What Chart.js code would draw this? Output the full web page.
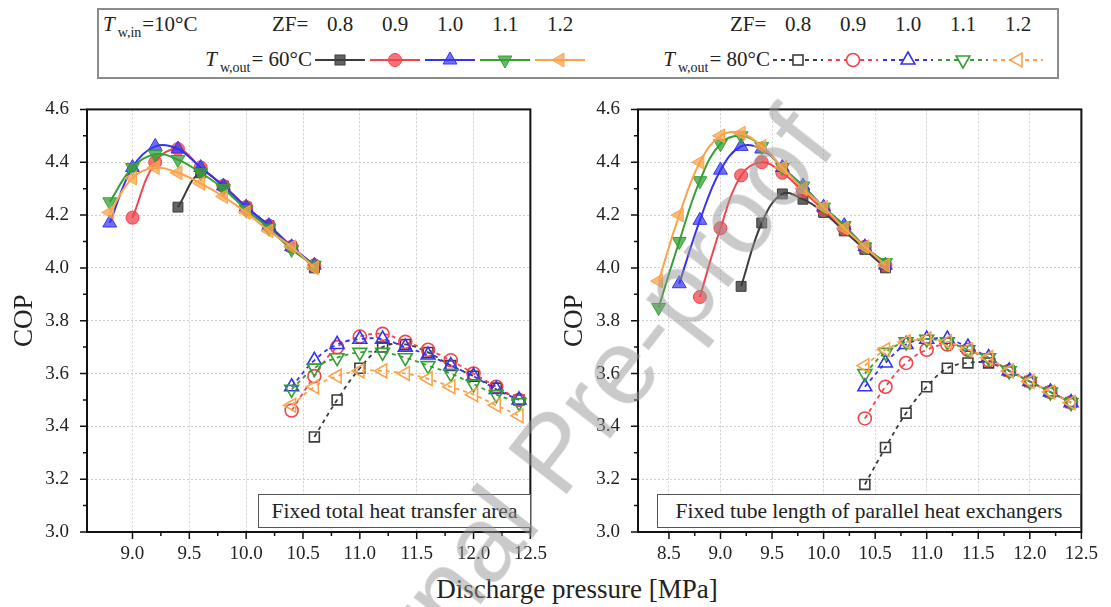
<!DOCTYPE html>
<html>
<head>
<meta charset="utf-8">
<script src="https://cdn.jsdelivr.net/npm/chart.js@4.4.0/dist/chart.umd.min.js"></script>
<style>
  body { margin: 0; width: 1111px; height: 607px; background: #fff; position: relative; overflow: hidden;
         font-family: 'Liberation Serif', 'Times New Roman', serif; color: #222; }
  canvas { position: absolute; }
  #cLeft { left: 0; top: 80px; }
  #cRight { left: 550px; top: 80px; }
  .t { position: absolute; font-size: 21px; line-height: 1; white-space: nowrap; }
  .t sub { font-size: 14px; vertical-align: -6px; line-height: 0; margin-left: 3px; margin-right: 1px; }
  .c { transform: translateX(-50%); }
  #legendBox { position: absolute; left: 97px; top: 8px; width: 962px; height: 71px; box-sizing: border-box;
               border: 2px solid #8c8c8c; }
  .note { position: absolute; top: 494px; height: 34px; box-sizing: border-box; border: 1px solid #555;
          background: #fff; font-size: 21.5px; line-height: 32px; text-align: center; white-space: nowrap; }
  #xTitle { position: absolute; left: 577px; top: 574px; transform: translateX(-50%); font-size: 27px; white-space: nowrap; }
  #mark { position: absolute; left: 552px; top: 452px; transform: translate(-50%, -50%) rotate(-52deg);
          font-family: 'Liberation Sans', Arial, sans-serif; font-size: 108px; color: rgba(150,150,150,0.5);
          white-space: nowrap; pointer-events: none; }
</style>
</head>
<body>
<canvas id="cLeft" width="558" height="492"></canvas>
<canvas id="cRight" width="559" height="492"></canvas>

<div id="legendBox"></div>
<div class="t" style="left:103px; top:14px;"><i>T</i><sub>w,in</sub>=10°C</div>
<div class="t" style="left:272px; top:14px;">ZF=</div>
<div class="t" style="left:730px; top:14px;">ZF=</div>
<div class="t" style="right:799px; top:49px;"><i>T</i><sub>w,out</sub>= 60°C</div>
<div class="t" style="right:341px; top:49px;"><i>T</i><sub>w,out</sub>= 80°C</div>
<svg id="legendMarks" style="position:absolute; left:0; top:0;" width="1111" height="80"></svg>

<div class="note" style="left:258px; width:273px;">Fixed total heat transfer area</div>
<div class="note" style="left:657px; width:424px;">Fixed tube length of parallel heat exchangers</div>
<div id="xTitle">Discharge pressure [MPa]</div>
<div id="mark">Journal Pre-proof</div>

<script>
// ZF series
const zfLabels = ['0.8', '0.9', '1.0', '1.1', '1.2'];

// left panel - fixed total heat transfer area
const pressL60 = [8.8, 9.0, 9.2, 9.4, 9.6, 9.8, 10.0, 10.2, 10.4, 10.6];
const copL60_08 = [null, null, null, 4.23, 4.36, 4.31, 4.23, 4.16, 4.08, 4.00];
const copL60_09 = [null, 4.19, 4.40, 4.45, 4.38, 4.31, 4.23, 4.16, 4.08, 4.01];
const copL60_10 = [4.17, 4.38, 4.46, 4.45, 4.38, 4.31, 4.23, 4.16, 4.08, 4.01];
const copL60_11 = [4.25, 4.38, 4.43, 4.41, 4.36, 4.30, 4.22, 4.15, 4.07, 4.01];
const copL60_12 = [4.21, 4.34, 4.38, 4.36, 4.32, 4.27, 4.21, 4.14, 4.08, 4.00];

const pressL80 = [10.4, 10.6, 10.8, 11.0, 11.2, 11.4, 11.6, 11.8, 12.0, 12.2, 12.4];
const copL80_08 = [null, 3.36, 3.50, 3.62, 3.70, 3.71, 3.68, 3.63, 3.59, 3.545, 3.50];
const copL80_09 = [3.46, 3.59, 3.70, 3.74, 3.75, 3.72, 3.69, 3.65, 3.60, 3.55, 3.50];
const copL80_10 = [3.55, 3.65, 3.71, 3.73, 3.73, 3.70, 3.67, 3.63, 3.59, 3.54, 3.50];
const copL80_11 = [3.54, 3.62, 3.66, 3.68, 3.68, 3.66, 3.63, 3.60, 3.56, 3.52, 3.49];
const copL80_12 = [3.48, 3.55, 3.59, 3.61, 3.61, 3.60, 3.58, 3.55, 3.52, 3.48, 3.44];

// right panel - fixed tube length of parallel heat exchangers
const pressR60 = [8.4, 8.6, 8.8, 9.0, 9.2, 9.4, 9.6, 9.8, 10.0, 10.2, 10.4, 10.6];
const copR60_08 = [null, null, null, null, 3.93, 4.17, 4.28, 4.26, 4.21, 4.14, 4.07, 4.00];
const copR60_09 = [null, null, 3.89, 4.15, 4.35, 4.40, 4.36, 4.29, 4.22, 4.15, 4.08, 4.01];
const copR60_10 = [null, 3.94, 4.18, 4.37, 4.46, 4.45, 4.38, 4.31, 4.23, 4.16, 4.08, 4.01];
const copR60_11 = [3.85, 4.10, 4.33, 4.47, 4.50, 4.46, 4.38, 4.31, 4.23, 4.16, 4.08, 4.02];
const copR60_12 = [3.95, 4.20, 4.40, 4.50, 4.51, 4.46, 4.38, 4.30, 4.23, 4.15, 4.08, 4.01];

const pressR80 = [10.4, 10.6, 10.8, 11.0, 11.2, 11.4, 11.6, 11.8, 12.0, 12.2, 12.4];
const copR80_08 = [3.18, 3.32, 3.45, 3.55, 3.62, 3.64, 3.64, 3.61, 3.57, 3.53, 3.49];
const copR80_09 = [3.43, 3.55, 3.64, 3.69, 3.71, 3.69, 3.65, 3.61, 3.57, 3.53, 3.49];
const copR80_10 = [3.55, 3.64, 3.71, 3.73, 3.73, 3.70, 3.66, 3.61, 3.57, 3.53, 3.49];
const copR80_11 = [3.60, 3.68, 3.72, 3.73, 3.72, 3.69, 3.66, 3.61, 3.57, 3.53, 3.49];
const copR80_12 = [3.63, 3.69, 3.72, 3.73, 3.72, 3.69, 3.66, 3.61, 3.57, 3.53, 3.49];

// styles per ZF
const lineColors = ['#3c3c3c', '#f2444c', '#3434f0', '#34a034', '#fba34c'];
const fillColors = ['rgba(60,60,60,0.8)', 'rgba(242,68,76,0.75)', 'rgba(52,52,240,0.7)', 'rgba(52,160,52,0.75)', 'rgba(251,163,76,0.75)'];
const shapes = ['rect', 'circle', 'triangle', 'triangle', 'triangle'];
const rotations = [0, 0, 0, 180, 270];
const radii = [7, 6.5, 8, 8, 8];

const FONT = "'Liberation Serif', 'Times New Roman', serif";

function isMajor(v, step) {
  return Math.abs(v / step - Math.round(v / step)) < 1e-6;
}

function toPoints(xs, ys) {
  const pts = [];
  xs.forEach((x, i) => { if (ys[i] !== null) pts.push({ x: x, y: ys[i] }); });
  return pts;
}

function series(xs, ys, i, hot) {
  return {
    label: (hot ? '80' : '60') + ' ZF=' + zfLabels[i],
    data: toPoints(xs, ys),
    borderColor: lineColors[i],
    borderWidth: hot ? 1.8 : 2,
    borderDash: hot ? [4, 4] : [],
    tension: 0.4,
    pointStyle: shapes[i],
    pointRotation: rotations[i],
    pointRadius: radii[i],
    pointBorderWidth: hot ? 1.6 : 1,
    pointBorderColor: lineColors[i],
    pointBackgroundColor: hot ? 'rgba(255,255,255,0)' : fillColors[i],
    order: 4 - i
  };
}

// outward major/minor ticks and the closed frame
const framePlugin = {
  id: 'frame',
  afterDatasetsDraw(chart) {
    const { ctx, chartArea: a } = chart;
    const x = chart.scales.x, y = chart.scales.y;
    ctx.save();
    ctx.strokeStyle = '#111';
    ctx.lineWidth = 1.5;
    ctx.beginPath();
    x.ticks.forEach(t => {
      if (!isMajor(t.value, 0.25)) return;
      const px = x.getPixelForValue(t.value);
      ctx.moveTo(px, a.bottom);
      ctx.lineTo(px, a.bottom + (isMajor(t.value, 0.5) ? 7 : 4));
    });
    y.ticks.forEach(t => {
      if (!isMajor(t.value, 0.1)) return;
      const py = y.getPixelForValue(t.value);
      ctx.moveTo(a.left, py);
      ctx.lineTo(a.left - (isMajor(t.value, 0.2) ? 7 : 4), py);
    });
    ctx.stroke();
    ctx.lineWidth = 2;
    ctx.strokeRect(a.left, a.top, a.right - a.left, a.bottom - a.top);
    ctx.restore();
  }
};

function makePanel(id, xMin, yWidth, datasets) {
  return new Chart(document.getElementById(id), {
    type: 'line',
    data: { datasets: datasets },
    plugins: [framePlugin],
    options: {
      responsive: false,
      animation: false,
      layout: { padding: { top: 16, right: 20, left: 0, bottom: 0 } },
      plugins: { legend: { display: false }, tooltip: { enabled: false } },
      scales: {
        x: {
          type: 'linear',
          min: xMin, max: 12.5,
          afterFit(scale) { scale.height = 40; },
          border: { display: false, dash: [2, 2] },
          grid: {
            drawTicks: false,
            color: c => isMajor(c.tick.value, 0.5) ? '#cfcfcf' : 'rgba(0,0,0,0)'
          },
          ticks: {
            stepSize: 0.25, autoSkip: false, maxRotation: 0, padding: 11,
            color: '#222', font: { family: FONT, size: 19 },
            callback: v => isMajor(v, 0.5) ? v.toFixed(1) : ''
          }
        },
        y: {
          min: 3.0, max: 4.6,
          afterFit(scale) { scale.width = yWidth; },
          border: { display: false, dash: [2, 2] },
          grid: {
            drawTicks: false,
            color: c => isMajor(c.tick.value, 0.2) ? '#cfcfcf' : 'rgba(0,0,0,0)'
          },
          title: { display: true, text: 'COP', color: '#222', font: { family: FONT, size: 27 }, padding: { top: 9, bottom: 0 } },
          ticks: {
            stepSize: 0.1, autoSkip: false, padding: 18,
            color: '#222', font: { family: FONT, size: 19 },
            callback: v => isMajor(v, 0.2) ? v.toFixed(1) : ''
          }
        }
      }
    }
  });
}

const leftSets = [
  series(pressL60, copL60_08, 0, false), series(pressL60, copL60_09, 1, false), series(pressL60, copL60_10, 2, false),
  series(pressL60, copL60_11, 3, false), series(pressL60, copL60_12, 4, false),
  series(pressL80, copL80_08, 0, true), series(pressL80, copL80_09, 1, true), series(pressL80, copL80_10, 2, true),
  series(pressL80, copL80_11, 3, true), series(pressL80, copL80_12, 4, true)
];
const rightSets = [
  series(pressR60, copR60_08, 0, false), series(pressR60, copR60_09, 1, false), series(pressR60, copR60_10, 2, false),
  series(pressR60, copR60_11, 3, false), series(pressR60, copR60_12, 4, false),
  series(pressR80, copR80_08, 0, true), series(pressR80, copR80_09, 1, true), series(pressR80, copR80_10, 2, true),
  series(pressR80, copR80_11, 3, true), series(pressR80, copR80_12, 4, true)
];

makePanel('cLeft', 8.6, 87, leftSets);
makePanel('cRight', 8.2, 88, rightSets);

// legend: ZF numbers, line samples and markers
const legendCols60 = [340, 395, 450, 505, 560];
const legendCols80 = [798, 853, 908, 963, 1018];
zfLabels.forEach((z, i) => {
  [legendCols60[i], legendCols80[i]].forEach(cx => {
    const d = document.createElement('div');
    d.className = 't c';
    d.style.left = cx + 'px';
    d.style.top = '14px';
    d.textContent = z;
    document.body.appendChild(d);
  });
});

const svg = document.getElementById('legendMarks');
const NS = 'http://www.w3.org/2000/svg';
function shape(i, cx, cy, hot) {
  let el;
  if (i === 0) {
    el = document.createElementNS(NS, 'rect');
    el.setAttribute('x', cx - 5); el.setAttribute('y', cy - 5);
    el.setAttribute('width', 10); el.setAttribute('height', 10);
  } else if (i === 1) {
    el = document.createElementNS(NS, 'circle');
    el.setAttribute('cx', cx); el.setAttribute('cy', cy); el.setAttribute('r', 6.5);
  } else {
    el = document.createElementNS(NS, 'polygon');
    const r = 8;
    const pts = [0, 120, 240].map(a => {
      const rad = (a + rotations[i]) * Math.PI / 180;
      return (cx + Math.sin(rad) * r).toFixed(1) + ',' + (cy - Math.cos(rad) * r).toFixed(1);
    });
    el.setAttribute('points', pts.join(' '));
  }
  el.setAttribute('fill', hot ? 'rgba(255,255,255,1)' : fillColors[i]);
  el.setAttribute('stroke', lineColors[i]);
  el.setAttribute('stroke-width', hot ? 1.6 : 1);
  return el;
}
function legendItem(i, cx, hot) {
  const ln = document.createElementNS(NS, 'line');
  ln.setAttribute('x1', cx - 25); ln.setAttribute('x2', cx + 25);
  ln.setAttribute('y1', 60); ln.setAttribute('y2', 60);
  ln.setAttribute('stroke', lineColors[i]);
  ln.setAttribute('stroke-width', 2);
  if (hot) ln.setAttribute('stroke-dasharray', '4 4');
  svg.appendChild(ln);
  svg.appendChild(shape(i, cx, 60, hot));
}
zfLabels.forEach((z, i) => {
  legendItem(i, legendCols60[i], false);
  legendItem(i, legendCols80[i], true);
});
</script>
</body>
</html>
